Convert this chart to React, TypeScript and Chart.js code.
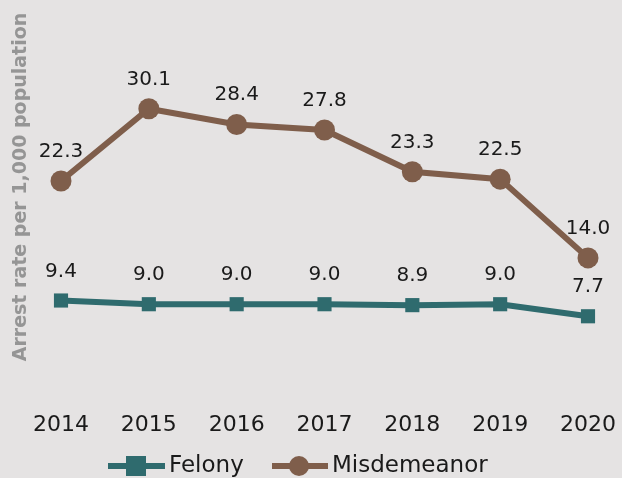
import React, { useEffect, useRef } from "react";
import { Chart, registerables } from "chart.js";

Chart.register(...registerables);

const years = ["2014", "2015", "2016", "2017", "2018", "2019", "2020"];
const felony = [9.4, 9.0, 9.0, 9.0, 8.9, 9.0, 7.7];
const misdemeanor = [22.3, 30.1, 28.4, 27.8, 23.3, 22.5, 14.0];
const yTitle = "Arrest rate per 1,000 population";

const FELONY_COLOR = "#2f6b6e";
const MISD_COLOR = "#7f5e4b";
const BG = "#e5e3e3";
const FONT = "'DejaVu Sans', sans-serif";

const extrasPlugin = {
  id: "extras",
  afterDatasetsDraw(chart: any) {
    const ctx = chart.ctx;
    ctx.save();
    ctx.font = `20px ${FONT}`;
    ctx.fillStyle = "#1a1a1a";
    ctx.textAlign = "center";
    ctx.textBaseline = "alphabetic";
    chart.data.datasets.forEach((ds: any, i: number) => {
      const meta = chart.getDatasetMeta(i);
      meta.data.forEach((pt: any, j: number) => {
        const v = ds.data[j];
        ctx.fillText(v.toFixed(1), pt.x, pt.y - 24);
      });
    });
    ctx.save();
    ctx.translate(21, 187);
    ctx.rotate(-Math.PI / 2);
    ctx.font = `bold 19px ${FONT}`;
    ctx.fillStyle = "#959595";
    ctx.textAlign = "center";
    ctx.textBaseline = "middle";
    ctx.fillText(yTitle, 0, 0);
    ctx.restore();
    const ly = 466;
    ctx.font = `23px ${FONT}`;
    ctx.textAlign = "left";
    ctx.textBaseline = "middle";
    ctx.strokeStyle = FELONY_COLOR;
    ctx.lineWidth = 6;
    ctx.beginPath();
    ctx.moveTo(108, ly);
    ctx.lineTo(165, ly);
    ctx.stroke();
    ctx.fillStyle = FELONY_COLOR;
    ctx.fillRect(126, ly - 10, 20, 20);
    ctx.fillStyle = "#1a1a1a";
    ctx.fillText(chart.data.datasets[0].label, 169, ly);
    ctx.strokeStyle = MISD_COLOR;
    ctx.beginPath();
    ctx.moveTo(272, ly);
    ctx.lineTo(328, ly);
    ctx.stroke();
    ctx.fillStyle = MISD_COLOR;
    ctx.beginPath();
    ctx.arc(299, ly, 10, 0, Math.PI * 2);
    ctx.fill();
    ctx.fillStyle = "#1a1a1a";
    ctx.fillText(chart.data.datasets[1].label, 332, ly);
    ctx.restore();
  },
};

export default function App() {
  const ref = useRef<HTMLCanvasElement>(null);
  useEffect(() => {
    document.body.style.margin = "0";
    const chart = new Chart(ref.current!, {
      type: "line",
      data: {
        labels: years,
        datasets: [
          {
            label: "Felony",
            data: felony,
            borderColor: FELONY_COLOR,
            backgroundColor: FELONY_COLOR,
            borderWidth: 6,
            pointStyle: "rect",
            pointRadius: 10,
            pointBorderWidth: 0,
            clip: false as any,
          },
          {
            label: "Misdemeanor",
            data: misdemeanor,
            borderColor: MISD_COLOR,
            backgroundColor: MISD_COLOR,
            borderWidth: 6,
            pointStyle: "circle",
            pointRadius: 10.5,
            pointBorderWidth: 0,
            clip: false as any,
          },
        ],
      },
      options: {
        animation: false,
        responsive: false,
        layout: { autoPadding: false, padding: { left: 61, right: 34, top: 17, bottom: 24 } },
        plugins: { legend: { display: false }, tooltip: { enabled: false } },
        scales: {
          x: {
            offset: false,
            grid: { display: false },
            border: { display: false },
            afterFit: (scale: any) => {
              scale.paddingLeft = 0;
              scale.paddingRight = 0;
            },
            ticks: {
              color: "#1a1a1a",
              font: { family: "DejaVu Sans", size: 22 },
              padding: 16,
              maxRotation: 0,
              autoSkip: false,
            },
          },
          y: {
            display: false,
            min: 0,
            max: 40,
          },
        },
      },
      plugins: [extrasPlugin],
    });
    return () => chart.destroy();
  }, []);
  return (
    <div style={{ position: "fixed", left: 0, top: 0, width: 622, height: 478, background: BG }}>
      <canvas ref={ref} width={622} height={478} style={{ width: 622, height: 478 }} />
    </div>
  );
}
